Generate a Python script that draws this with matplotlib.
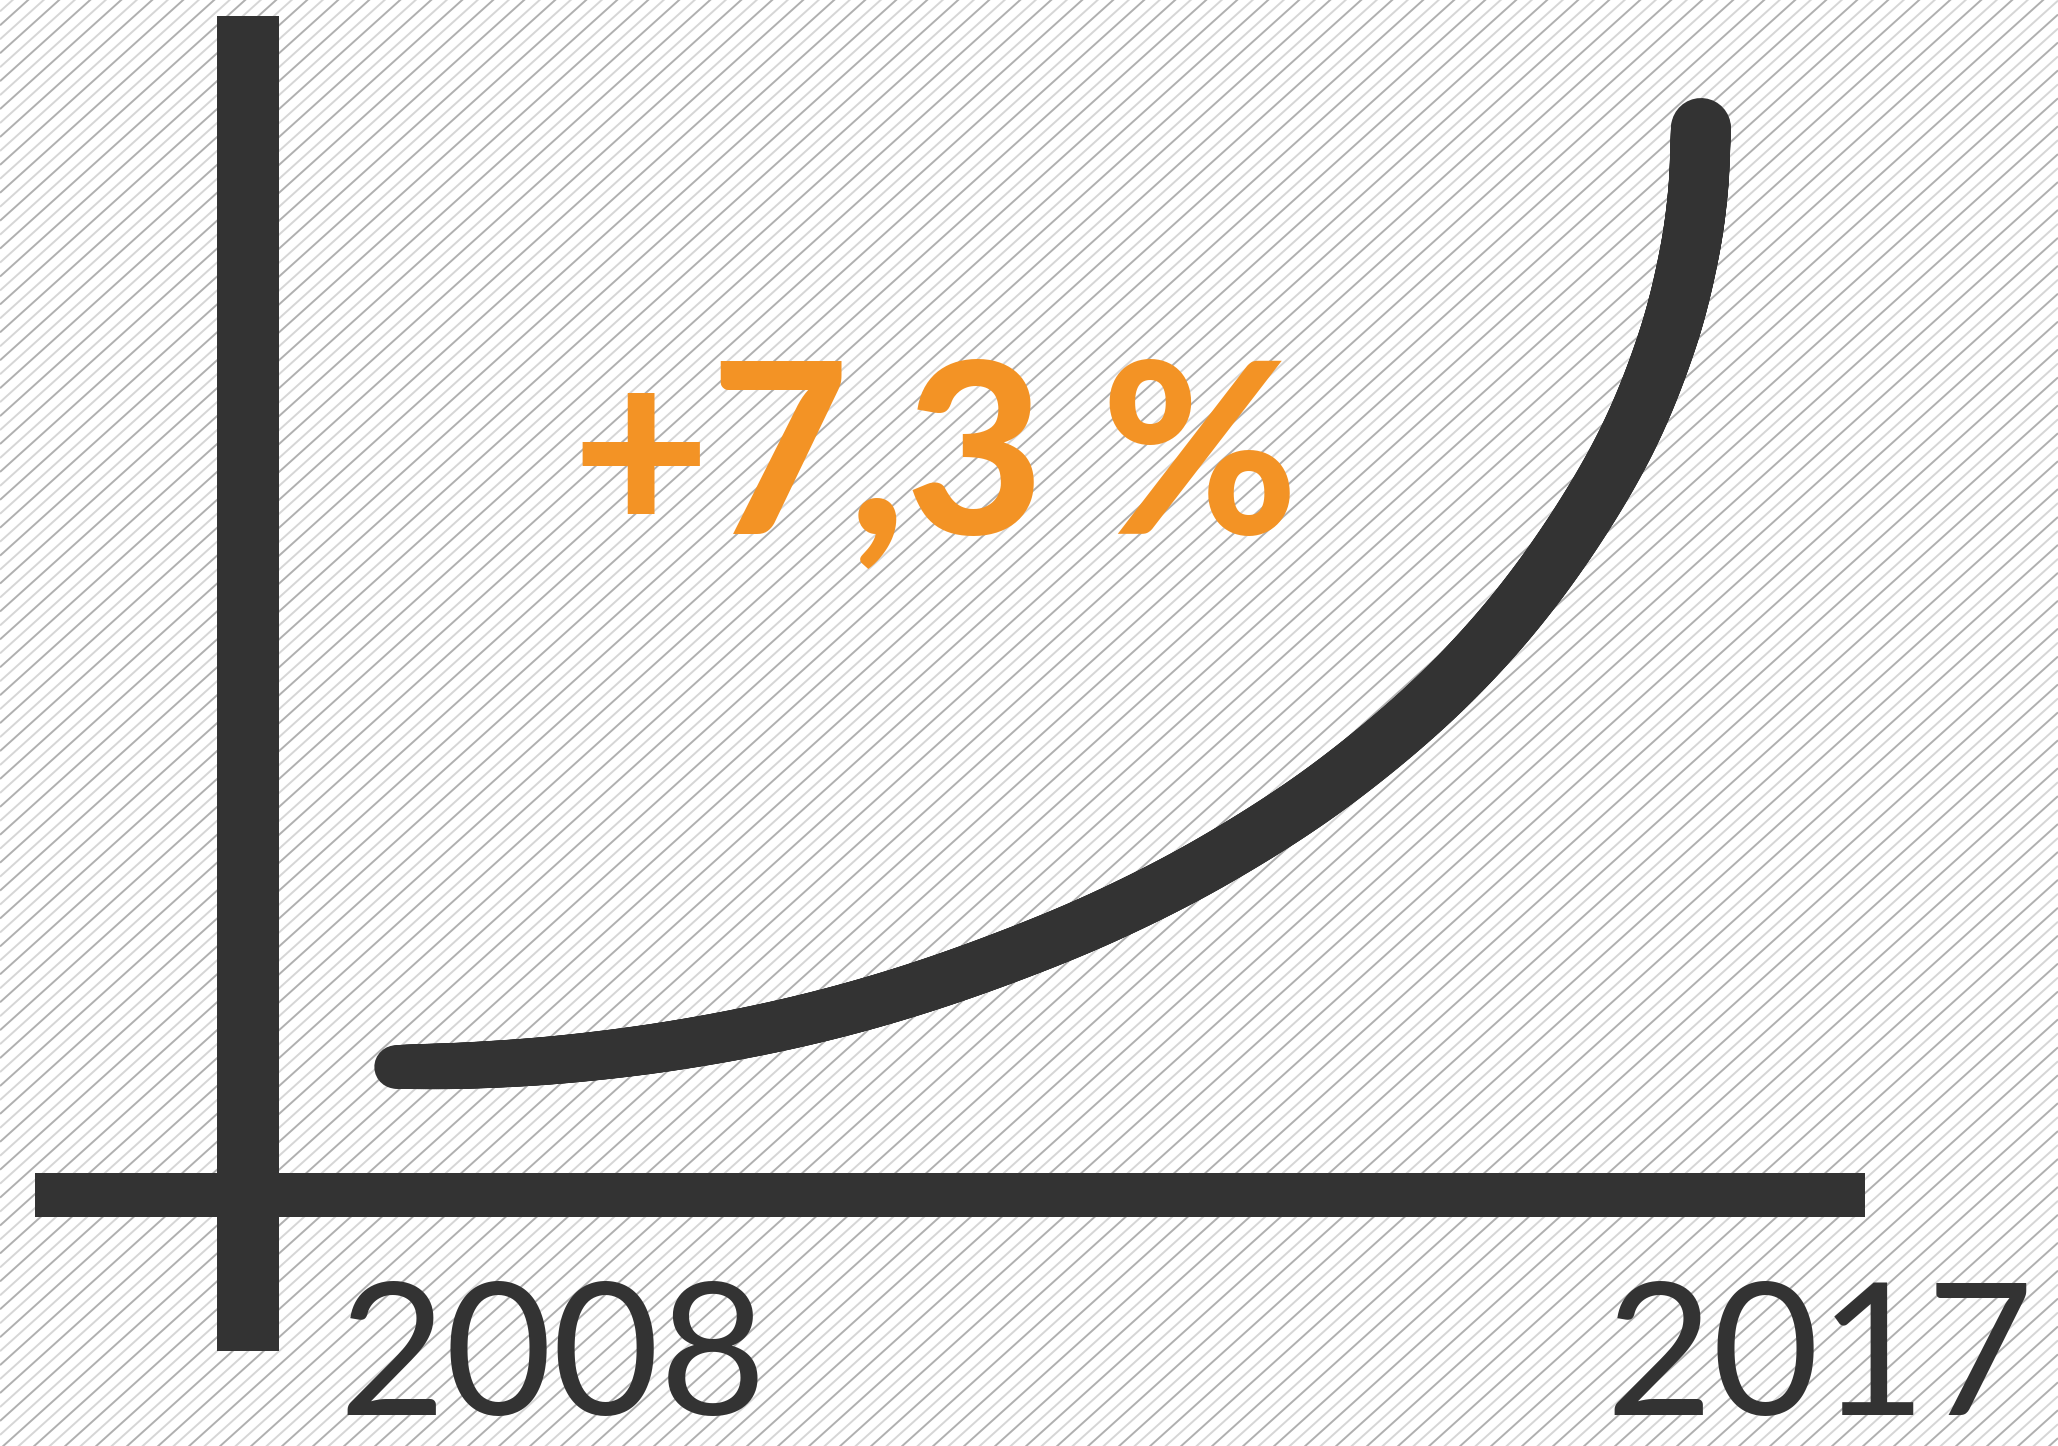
import numpy as np
import matplotlib
matplotlib.use("Agg")
import matplotlib.pyplot as plt
from matplotlib.collections import LineCollection
from matplotlib.transforms import Affine2D

# ---------------- data ----------------
year_labels = ["2008", "2017"]
growth_label = "+7,3 %"
# schematic growth curve: x in years, y as index (2008 = 100)
curve_year = [2008.000, 2008.510, 2009.131, 2009.890, 2010.683, 2011.407,
              2012.166, 2012.924, 2013.683, 2014.476, 2015.269, 2015.890,
              2016.455, 2016.766, 2016.917, 2016.979, 2017.000]
curve_index = [100.00, 100.15, 100.70, 101.97, 104.01, 106.61,
               110.14, 114.42, 119.80, 126.90, 136.18, 145.97,
               158.22, 168.52, 176.61, 182.60, 188.60]
# axis bars (data positions)
yaxis_year = 2006.98
yaxis_span = [73.2, 199.2]
xaxis_index = 87.9
xaxis_span = [2005.51, 2018.13]

# ---------------- layout ----------------
W, H, DPI = 2058, 1446, 100
DARK = "#333333"
ORANGE = "#F39325"

fig = plt.figure(figsize=(W / DPI, H / DPI), dpi=DPI)
fig.patch.set_facecolor("white")
ax = fig.add_axes([0, 0, 1, 1])
ax.set_axis_off()

px_per_year = 145.0
px_per_idx = 10.598
x_left = 2008 - 396 / px_per_year
ax.set_xlim(x_left, x_left + W / px_per_year)
y_top = 100 + 1067 / px_per_idx
ax.set_ylim(y_top - H / px_per_idx, y_top)

# ---------------- striped background ----------------
theta = np.deg2rad(42)
hstep = 15.5
pix = Affine2D().scale(1 / W, 1 / H) + ax.transAxes
segs, cols = [], []
slope = np.tan(theta)
c_vals = np.arange(-W * slope - 20, H + 20, hstep * slope)
for i, c in enumerate(c_vals):
    segs.append([(0, c), (W, c + W * slope)])
    cols.append("#b0b0b0" if i % 2 == 0 else "#d6d6d6")
bg = LineCollection(segs, colors=cols, linewidths=1.4, transform=pix, zorder=0)
ax.add_collection(bg)

# ---------------- axis bars ----------------
ax.plot([yaxis_year, yaxis_year], yaxis_span, color=DARK, lw=62 * 72 / DPI,
        solid_capstyle="butt", zorder=2)
ax.plot(xaxis_span, [xaxis_index, xaxis_index], color=DARK, lw=44 * 72 / DPI,
        solid_capstyle="butt", zorder=2)

# ---------------- curve (smooth tapered stroke through the read points) ----
pts = np.column_stack([curve_year, curve_index])
disp = ax.transData.transform(pts)
P = np.vstack([2 * disp[0] - disp[1], disp, 2 * disp[-1] - disp[-2]])
smooth = []
for i in range(1, len(P) - 2):
    p0, p1, p2, p3 = P[i - 1], P[i], P[i + 1], P[i + 2]
    t0 = 0.0
    t1 = t0 + np.linalg.norm(p1 - p0) ** 0.5
    t2 = t1 + np.linalg.norm(p2 - p1) ** 0.5
    t3 = t2 + np.linalg.norm(p3 - p2) ** 0.5
    for t in np.linspace(t1, t2, 40, endpoint=False):
        a1 = (t1 - t) / (t1 - t0) * p0 + (t - t0) / (t1 - t0) * p1
        a2 = (t2 - t) / (t2 - t1) * p1 + (t - t1) / (t2 - t1) * p2
        a3 = (t3 - t) / (t3 - t2) * p2 + (t - t2) / (t3 - t2) * p3
        b1 = (t2 - t) / (t2 - t0) * a1 + (t - t0) / (t2 - t0) * a2
        b2 = (t3 - t) / (t3 - t1) * a2 + (t - t1) / (t3 - t1) * a3
        smooth.append((t2 - t) / (t2 - t1) * b1 + (t - t1) / (t2 - t1) * b2)
smooth.append(disp[-1])
smooth = np.array(smooth)
seglen = np.hypot(*np.diff(smooth, axis=0).T)
frac = np.concatenate([[0], np.cumsum(seglen)]) / seglen.sum()
mid = (frac[:-1] + frac[1:]) / 2
widths_px = 43 + 17 * np.sqrt(mid)
sm_data = ax.transData.inverted().transform(smooth)
curve_segs = np.stack([sm_data[:-1], sm_data[1:]], axis=1)
lc = LineCollection(curve_segs, colors=DARK, linewidths=widths_px * 72 / DPI,
                    capstyle="round", joinstyle="round", zorder=3)
ax.add_collection(lc)

# ---------------- texts ----------------
ax.text(0.2780, 1 - 533 / H, growth_label, transform=ax.transAxes,
        fontsize=172, fontweight="black", family=["Lato", "DejaVu Sans"],
        color=ORANGE, ha="left", va="baseline", zorder=4)
ax.text(553 / W, 1 - 1415 / H, year_labels[0], transform=ax.transAxes,
        fontsize=133, fontweight="normal", family=["Lato", "DejaVu Sans"],
        color=DARK, ha="center", va="baseline", zorder=4)
ax.text(1819.5 / W, 1 - 1415 / H, year_labels[1], transform=ax.transAxes,
        fontsize=133, fontweight="normal", family=["Lato", "DejaVu Sans"],
        color=DARK, ha="center", va="baseline", zorder=4)

fig.savefig("out.png", dpi=DPI, facecolor="white")
